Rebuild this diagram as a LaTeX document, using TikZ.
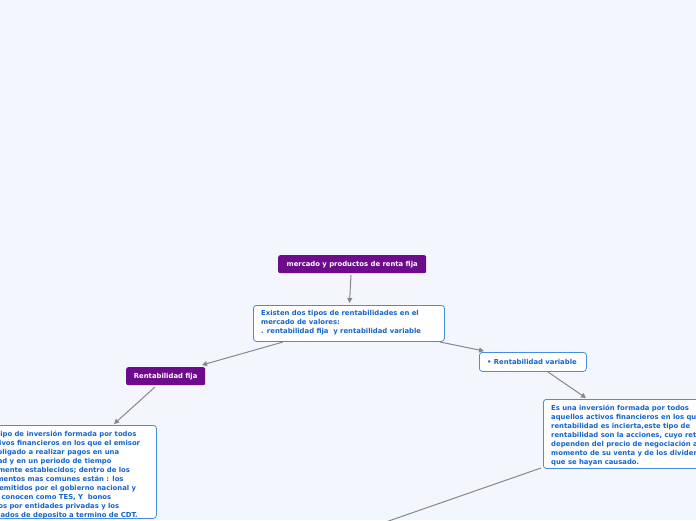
\documentclass[tikz,border=0pt]{standalone}
\usepackage{fontspec}
\setmainfont{DejaVu Sans}
\usetikzlibrary{arrows.meta}
\definecolor{bgc}{RGB}{243,246,253}
\definecolor{purp}{RGB}{110,10,140}
\definecolor{bord}{RGB}{70,140,225}
\definecolor{txtb}{RGB}{20,100,205}
\definecolor{conn}{RGB}{135,135,140}
\tikzset{
  topic/.style={fill=purp, rounded corners=2pt, inner sep=0pt, anchor=north west},
  ttxt/.style={text=white, font=\bfseries\fontsize{6.85pt}{9pt}\selectfont, inner sep=0pt},
  sub/.style={fill=white, draw=bord, line width=0.8pt, rounded corners=3pt, anchor=north west, inner sep=0pt},
  txt/.style={text=txtb, font=\bfseries\fontsize{6.85pt}{9pt}\selectfont, align=left, anchor=north west, inner sep=0pt},
  link/.style={draw=conn, line width=1pt, -{Triangle[length=5pt,width=5pt]}},
  plink/.style={draw=conn, line width=1pt}
}
\begin{document}
\begin{tikzpicture}[x=1pt,y=-1pt]
\useasboundingbox (0,0) rectangle (696,520);
\clip (0,0) rectangle (696,520);
\fill[bgc] (0,0) rectangle (696,520);
% title
\node[topic, minimum width=148pt, minimum height=18pt] (t) at (278,255) {};
\node[ttxt] at (t.center) {mercado y productos de renta fija};
% box 2
\node[sub, minimum width=191pt, minimum height=36pt] (b) at (253,305) {};
\node[txt] at (261,310) {Existen dos tipos de rentabilidades en el\\mercado de valores:\\. rentabilidad fija\ \ y rentabilidad variable};
% rentabilidad fija
\node[topic, minimum width=79pt, minimum height=18pt] (rf) at (126,367) {};
\node[ttxt] at (rf.center) {Rentabilidad fija};
% rentabilidad variable
\node[sub, minimum width=107pt, minimum height=19pt] (rv) at (479,352) {};
\node[txt, anchor=west] at (487,361.5) {• Rentabilidad variable};
% left box
\node[sub, minimum width=190pt, minimum height=93pt] (lb) at (-34,425) {};
\node[txt] at (-26.5,431) {Es un tipo de inversión formada por todos\\los activos financieros en los que el emisor\\está obligado a realizar pagos en una\\cantidad y en un periodo de tiempo\\previamente establecidos; dentro de los\\instrumentos mas comunes están : los\\bonos emitidos por el gobierno nacional y\\que se conocen como TES, Y\ \ bonos\\emitidos por entidades privadas y los\\certificados de deposito a termino de CDT.};
% right box
\node[sub, minimum width=200pt, minimum height=69pt] (rb) at (543,399) {};
\node[txt] at (551,405) {Es una inversión formada por todos\\aquellos activos financieros en los que la\\rentabilidad es incierta,este tipo de\\rentabilidad son la acciones, cuyo retornos\\dependen del precio de negociación al\\momento de su venta y de los dividendos\\que se hayan causado.};
\coordinate (below) at (380,524);
% connectors
\draw[link] (351,275) -- (349.5,303);
\draw[link] (283,342) -- (202,365);
\draw[link] (155,387) -- (114,424);
\draw[link] (440,342) -- (484,351);
\draw[link] (548,372) -- (586,398);
\draw[plink] (541,468) -- (below);
\end{tikzpicture}
\end{document}
